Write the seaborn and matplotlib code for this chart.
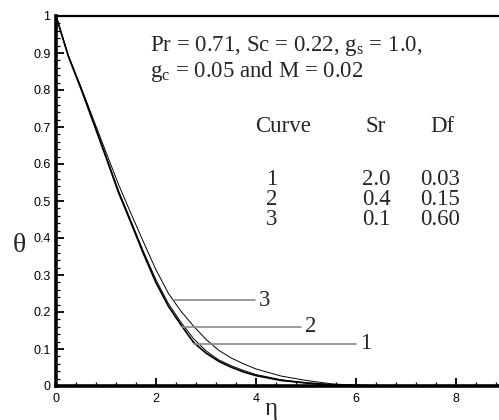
import matplotlib
matplotlib.use("Agg")
import matplotlib.pyplot as plt
import seaborn as sns
import pandas as pd
from matplotlib.ticker import MultipleLocator

# ---- data ----
eta = [0, 0.25, 0.5, 0.75, 1.0, 1.25, 1.5, 1.75, 2.0, 2.25, 2.5, 2.75, 3.0,
       3.25, 3.5, 3.75, 4.0, 4.5, 5.0, 5.5, 6.0, 7.0, 8.0, 10.0]
theta_1 = [1.0, 0.89, 0.803, 0.711, 0.618, 0.523, 0.441, 0.357, 0.279, 0.215,
           0.165, 0.118, 0.089, 0.067, 0.051, 0.038, 0.028, 0.015, 0.008, 0.003,
           0.001, 0.0, 0.0, 0.0]
theta_2 = [1.0, 0.891, 0.805, 0.714, 0.622, 0.528, 0.446, 0.363, 0.287, 0.222,
           0.172, 0.128, 0.095, 0.071, 0.055, 0.042, 0.031, 0.017, 0.009, 0.004,
           0.002, 0.0, 0.0, 0.0]
theta_3 = [1.0, 0.892, 0.808, 0.720, 0.632, 0.545, 0.466, 0.389, 0.314, 0.250,
           0.202, 0.162, 0.126, 0.097, 0.076, 0.060, 0.046, 0.027, 0.015, 0.006,
           0.002, 0.0, 0.0, 0.0]

curve_names = ["1", "2", "3"]
sr_values = ["2.0", "0.4", "0.1"]
df_values = ["0.03", "0.15", "0.60"]

# leader lines for curve labels (theta level, eta start, eta end)
leader_theta = [0.114, 0.160, 0.232]
leader_start = [2.76, 2.53, 2.35]
leader_end = [6.0, 4.9, 3.98]

x_ticks = [0, 2, 4, 6, 8]
y_ticks = [0, 0.1, 0.2, 0.3, 0.4, 0.5, 0.6, 0.7, 0.8, 0.9, 1]
y_ticklabels = ["0", "0.1", "0.2", "0.3", "0.4", "0.5", "0.6", "0.7", "0.8", "0.9", "1"]

# ---- style ----
sns.set_style("ticks")
plt.rcParams["font.family"] = ["Liberation Sans", "DejaVu Sans"]
plt.rcParams["mathtext.fontset"] = "custom"
plt.rcParams["mathtext.rm"] = "Liberation Serif"
plt.rcParams["mathtext.it"] = "Liberation Serif:italic"

W, H = 499, 420
fig = plt.figure(figsize=(W / 100, H / 100), dpi=100)
x0, y0, ytop = 56, 386, 16
ax = fig.add_axes([x0 / W, (H - y0) / H, 500 / W, (y0 - ytop) / H])

frames = []
for name, th in zip(curve_names, [theta_1, theta_2, theta_3]):
    frames.append(pd.DataFrame({"eta": eta, "theta": th, "curve": name}))
data = pd.concat(frames, ignore_index=True)

widths = {"1": 1.2, "2": 0.7, "3": 0.7}
for name in curve_names:
    sns.lineplot(data=data[data["curve"] == name], x="eta", y="theta",
                 color="black", lw=widths[name], ax=ax, legend=False)

serif = ["Liberation Serif", "DejaVu Serif"]
FS = 16.5
for th, s, e, name in zip(leader_theta, leader_start, leader_end, curve_names):
    ax.plot([s, e], [th, th], color="#8a8a8a", lw=1.2)
    ax.text(e + 0.08, th, name, family=serif, fontsize=FS, va="center", ha="left")

ax.set_xlim(0, 10)
ax.set_ylim(0, 1)
ax.set_xticks(x_ticks)
ax.set_yticks(y_ticks)
ax.set_yticklabels(y_ticklabels)
ax.xaxis.set_minor_locator(MultipleLocator(0.4))
ax.yaxis.set_minor_locator(MultipleLocator(0.02))
ax.tick_params(which="major", direction="in", length=6, width=1.3, labelsize=9,
               colors="black", pad=4)
ax.tick_params(which="minor", direction="in", length=3, width=0.9, colors="black")
ax.tick_params(axis="x", which="major", pad=5)
for side in ["left", "bottom"]:
    ax.spines[side].set_linewidth(2.6)
ax.spines["top"].set_linewidth(1.6)
ax.spines["right"].set_visible(False)
for sp in ax.spines.values():
    sp.set_color("black")

ax.set_xlabel("η", family=serif, fontsize=18)
ax.set_ylabel("θ", family=serif, fontsize=20, rotation=0)
ax.xaxis.set_label_coords((271 - x0) / 500, -(409 - y0) / (y0 - ytop), transform=ax.transAxes)
ax.yaxis.set_label_coords(-(x0 - 19) / 500, (y0 - 245) / (y0 - ytop), transform=ax.transAxes)
ax.xaxis.label.set_va("center")
ax.yaxis.label.set_va("center")
ax.yaxis.label.set_ha("center")

ax.text(1.88, 0.919, r"Pr = 0.71, Sc = 0.22, g$_\mathrm{s}$ = 1.0,",
        family=serif, fontsize=FS, va="center", ha="left")
ax.text(1.88, 0.851, r"g$_\mathrm{c}$ = 0.05 and M = 0.02",
        family=serif, fontsize=FS, va="center", ha="left")

ax.text(4.54, 0.70, "Curve", family=serif, fontsize=FS, ha="center", va="center")
ax.text(6.40, 0.70, "Sr", family=serif, fontsize=FS, ha="center", va="center")
ax.text(7.72, 0.70, "Df", family=serif, fontsize=FS, ha="center", va="center")
row_theta = [0.557, 0.503, 0.449]
for yv, c, s, d in zip(row_theta, curve_names, sr_values, df_values):
    ax.text(4.32, yv, c, family=serif, fontsize=FS, ha="center", va="center")
    ax.text(6.40, yv, s, family=serif, fontsize=FS, ha="center", va="center")
    ax.text(7.68, yv, d, family=serif, fontsize=FS, ha="center", va="center")

fig.savefig("out.png", dpi=100)
